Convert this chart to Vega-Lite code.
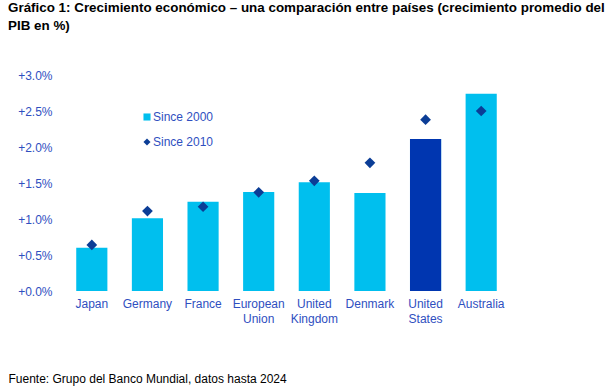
{
  "$schema": "https://vega.github.io/schema/vega-lite/v6.json",
  "width": 445,
  "height": 216,
  "autosize": "none",
  "padding": {"left": 64, "top": 75, "right": 103, "bottom": 99},
  "background": "white",
  "config": {
    "view": {"stroke": null},
    "font": "Liberation Sans",
    "legend": {
      "title": null,
      "orient": "none",
      "legendX": 77,
      "legendY": 36,
      "labelFontSize": 12,
      "labelColor": "#2f4fbf",
      "labelFont": "Liberation Sans",
      "symbolSize": 50,
      "rowPadding": 11,
      "labelOffset": 0,
      "symbolOpacity": 1
    }
  },
  "title": {
    "text": ["Gráfico 1: Crecimiento económico – una comparación entre países (crecimiento promedio del", "PIB en %)"],
    "anchor": "start",
    "frame": "group",
    "dx": -56,
    "offset": 37,
    "fontSize": 13.4,
    "fontWeight": "bold",
    "color": "#000000",
    "lineHeight": 18,
    "font": "Liberation Sans"
  },
  "data": {
    "values": [
      {"country": "Japan", "period": "Since 2000", "value": 0.60},
      {"country": "Germany", "period": "Since 2000", "value": 1.01},
      {"country": "France", "period": "Since 2000", "value": 1.24},
      {"country": "European Union", "period": "Since 2000", "value": 1.375},
      {"country": "United Kingdom", "period": "Since 2000", "value": 1.51},
      {"country": "Denmark", "period": "Since 2000", "value": 1.36},
      {"country": "United States", "period": "Since 2000", "value": 2.11},
      {"country": "Australia", "period": "Since 2000", "value": 2.74},
      {"country": "Japan", "period": "Since 2010", "value": 0.64},
      {"country": "Germany", "period": "Since 2010", "value": 1.11},
      {"country": "France", "period": "Since 2010", "value": 1.17},
      {"country": "European Union", "period": "Since 2010", "value": 1.37},
      {"country": "United Kingdom", "period": "Since 2010", "value": 1.53},
      {"country": "Denmark", "period": "Since 2010", "value": 1.78},
      {"country": "United States", "period": "Since 2010", "value": 2.38},
      {"country": "Australia", "period": "Since 2010", "value": 2.50}
    ]
  },
  "encoding": {
    "x": {
      "field": "country",
      "type": "nominal",
      "sort": null,
      "scale": {"paddingInner": 0.44, "paddingOuter": 0.22},
      "axis": {
        "title": "Fuente: Grupo del Banco Mundial, datos hasta 2024",
        "titleX": -56,
        "titleY": 91,
        "titleAlign": "left",
        "titleBaseline": "alphabetic",
        "titleFontSize": 12,
        "titleFontWeight": "normal",
        "titleColor": "#000000",
        "titleFont": "Liberation Sans",
        "labelAngle": 0,
        "labelExpr": "split(datum.label, ' ')",
        "labelFontSize": 12,
        "labelColor": "#2f4fbf",
        "labelFont": "Liberation Sans",
        "labelLineHeight": 15,
        "labelPadding": 7,
        "ticks": false,
        "domain": false,
        "grid": false
      }
    },
    "y": {
      "field": "value",
      "type": "quantitative",
      "scale": {"domain": [0, 3.0], "nice": false},
      "axis": {
        "title": null,
        "values": [0, 0.5, 1.0, 1.5, 2.0, 2.5, 3.0],
        "labelExpr": "'+' + format(datum.value, '.1f') + '%'",
        "labelFontSize": 12,
        "labelColor": "#2f4fbf",
        "labelFont": "Liberation Sans",
        "labelPadding": 12,
        "ticks": false,
        "domain": false,
        "grid": false
      }
    }
  },
  "layer": [
    {
      "transform": [{"filter": "datum.period == 'Since 2000'"}],
      "mark": {"type": "bar"},
      "encoding": {
        "color": {
          "field": "period",
          "type": "nominal",
          "scale": {"domain": ["Since 2000", "Since 2010"], "range": ["#00bfee", "#0b3d96"]}
        }
      }
    },
    {
      "transform": [{"filter": "datum.period == 'Since 2000' && datum.country == 'United States'"}],
      "mark": {"type": "bar", "color": "#0036b0"}
    },
    {
      "transform": [{"filter": "datum.period == 'Since 2010'"}],
      "mark": {"type": "point", "filled": true, "opacity": 1, "size": 115},
      "encoding": {
        "color": {
          "field": "period",
          "type": "nominal",
          "scale": {"domain": ["Since 2000", "Since 2010"], "range": ["#00bfee", "#0b3d96"]}
        },
        "shape": {
          "field": "period",
          "type": "nominal",
          "scale": {"domain": ["Since 2000", "Since 2010"], "range": ["square", "diamond"]}
        }
      }
    }
  ]
}
